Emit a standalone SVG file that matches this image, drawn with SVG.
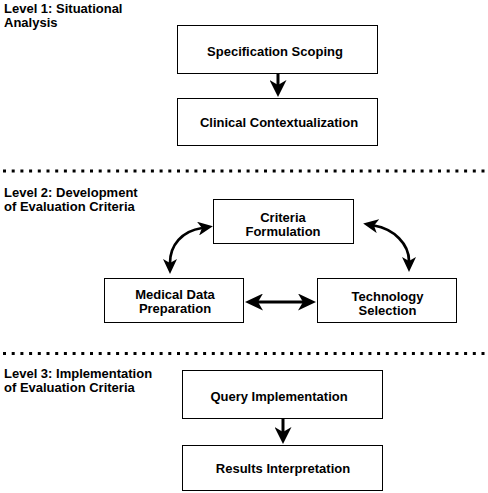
<svg xmlns="http://www.w3.org/2000/svg" width="488" height="493" viewBox="0 0 488 493">
<style>
.box{fill:#fff;stroke:#000;stroke-width:1}
.t{font-family:"Liberation Sans",Arial,Helvetica,sans-serif;font-size:13px;font-weight:bold;fill:#000}
.c{text-anchor:middle}
.sep{stroke:#000;stroke-width:3;stroke-dasharray:3 5.7;fill:none}
.conn{stroke:#000;stroke-width:3;fill:none}
.curve{stroke:#000;stroke-width:2.7;fill:none}
</style>
<defs>
<marker id="ah" markerUnits="userSpaceOnUse" markerWidth="17" markerHeight="17" refX="5" refY="8.5" orient="auto" viewBox="0 0 17 17">
<path d="M0,0 L17,8.5 L0,17 L5,8.5 Z" fill="#000"/>
</marker>
<marker id="ahc" markerUnits="userSpaceOnUse" markerWidth="15" markerHeight="14" refX="4" refY="7" orient="auto-start-reverse" viewBox="0 0 15 14">
<path d="M0,0 L15,7 L0,14 L4,7 Z" fill="#000"/>
</marker>
<marker id="ahb" markerUnits="userSpaceOnUse" markerWidth="18" markerHeight="17" refX="5" refY="8.5" orient="auto-start-reverse" viewBox="0 0 18 17">
<path d="M0,0 L18,8.5 L0,17 L5,8.5 Z" fill="#000"/>
</marker>
</defs>

<g id="separators">
<line class="sep" x1="3" y1="171" x2="488" y2="171"/>
<line class="sep" x1="3" y1="353.5" x2="488" y2="353.5"/>
</g>

<g id="level-labels">
<text class="t" x="4" y="12.5">Level 1: Situational</text>
<text class="t" x="4" y="27">Analysis</text>
<text class="t" x="4" y="196.5">Level 2: Development</text>
<text class="t" x="4" y="210.5">of Evaluation Criteria</text>
<text class="t" x="4" y="378">Level 3: Implementation</text>
<text class="t" x="4" y="392">of Evaluation Criteria</text>
</g>

<g id="connectors">
<line class="conn" x1="278" y1="73" x2="278" y2="85" marker-end="url(#ah)"/>
<path class="curve" d="M202,228 C182,231 170,245 170,263" marker-start="url(#ahc)" marker-end="url(#ahc)"/>
<path class="curve" d="M374,225.5 C394,229 409,244 409,261" marker-start="url(#ahc)" marker-end="url(#ahc)"/>
<line class="conn" x1="258" y1="302" x2="303" y2="302" marker-start="url(#ahb)" marker-end="url(#ahb)"/>
<line class="conn" x1="283" y1="419" x2="283" y2="432" marker-end="url(#ah)"/>
</g>

<g id="node-spec">
<rect class="box" x="177.5" y="25.5" width="200" height="48"/>
<text class="t c" x="275" y="55.5">Specification Scoping</text>
</g>
<g id="node-clinical">
<rect class="box" x="177.5" y="98.5" width="200" height="47"/>
<text class="t c" x="279" y="127">Clinical Contextualization</text>
</g>
<g id="node-criteria">
<rect class="box" x="213.5" y="199.5" width="140" height="44"/>
<text class="t c" x="283" y="221.5">Criteria</text>
<text class="t c" x="283" y="235.5">Formulation</text>
</g>
<g id="node-medical">
<rect class="box" x="104.5" y="278.5" width="139" height="44"/>
<text class="t c" x="175" y="299">Medical Data</text>
<text class="t c" x="175" y="313">Preparation</text>
</g>
<g id="node-technology">
<rect class="box" x="317.5" y="278.5" width="139" height="44"/>
<text class="t c" x="387.5" y="300.5">Technology</text>
<text class="t c" x="387.5" y="314.5">Selection</text>
</g>
<g id="node-query">
<rect class="box" x="182.5" y="370.5" width="200" height="48"/>
<text class="t c" x="279" y="400.5">Query Implementation</text>
</g>
<g id="node-results">
<rect class="box" x="182.5" y="445.5" width="200" height="45"/>
<text class="t c" x="283" y="472.5">Results Interpretation</text>
</g>
</svg>
